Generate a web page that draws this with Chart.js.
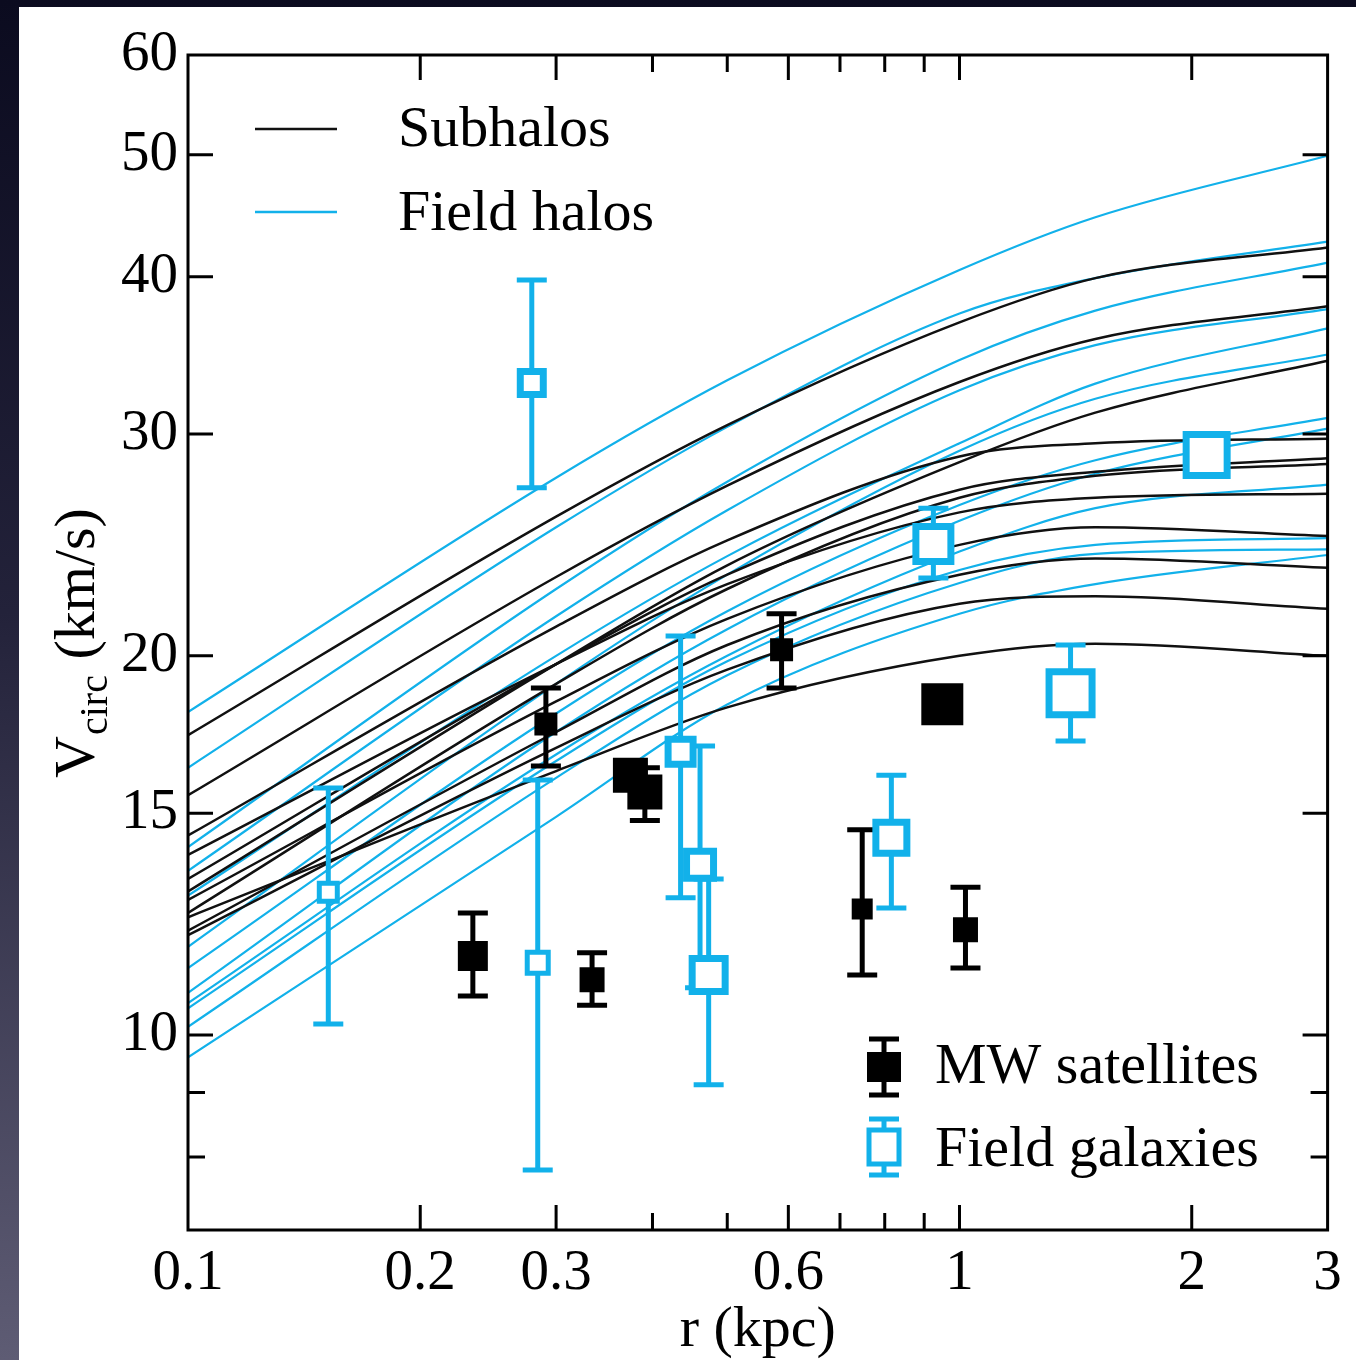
<!DOCTYPE html>
<html>
<head>
<meta charset="utf-8">
<script src="https://cdn.jsdelivr.net/npm/chart.js@4.4.1/dist/chart.umd.min.js"></script>
<style>
  html, body { margin: 0; padding: 0; }
  body {
    width: 1356px; height: 1360px; overflow: hidden; position: relative;
    background: linear-gradient(to bottom, #0b0b1f 0%, #23223a 45%, #5e5c74 100%);
  }
  #wrap { position: absolute; left: 19px; top: 7px; width: 1346px; height: 1353px; background: #fff; }
</style>
</head>
<body>
<div id="wrap"><canvas id="chart" width="1346" height="1353"></canvas></div>
<script>
const rGrid = [0.1, 0.3, 0.5, 1, 1.5, 3];

// subhalo rotation curves, V_circ (km/s) at rGrid
const subhaloV = [
  [17.3, 25.8, 30.5, 36.8, 39.9, 42.2],
  [15.5, 23.1, 27.3, 33.0, 35.7, 37.9],
  [13.0, 19.7, 23.6, 28.5, 31.2, 34.3],
  [14.4, 21.1, 24.7, 28.8, 29.5, 29.75],
  [13.3, 19.7, 23.2, 27.1, 28.0, 28.7],
  [12.5, 19.0, 22.6, 26.7, 27.8, 28.4],
  [13.9, 19.7, 22.8, 26.0, 26.7, 26.9],
  [12.8, 18.4, 21.4, 24.5, 25.3, 24.9],
  [12.1, 17.4, 20.4, 23.2, 23.9, 23.5],
  [12.0, 16.9, 19.5, 22.0, 22.3, 21.8],
  [12.4, 16.2, 18.2, 20.0, 20.45, 20.0]
];

// field halo rotation curves, V_circ (km/s) at rGrid
const fieldHaloV = [
  [18.05, 27.7, 33.1, 40.5, 44.6, 49.9],
  [16.3, 25.3, 30.4, 37.4, 39.9, 42.65],
  [14.1, 22.6, 27.5, 34.35, 37.6, 41.05],
  [13.5, 21.5, 26.1, 32.5, 35.3, 37.7],
  [12.9, 20.0, 24.0, 29.5, 32.9, 36.4],
  [11.75, 19.0, 23.2, 29.1, 32.0, 34.7],
  [11.3, 18.0, 21.7, 26.35, 28.6, 30.9],
  [10.8, 17.4, 21.0, 25.6, 27.9, 30.3],
  [10.6, 16.7, 20.0, 24.2, 26.2, 27.35],
  [10.5, 16.5, 19.8, 23.4, 24.5, 24.8],
  [10.15, 16.0, 19.3, 22.85, 24.1, 24.3],
  [9.6, 14.9, 18.3, 21.6, 22.8, 24.05]
];

// MW satellites
const mwR  = [0.234, 0.291, 0.334, 0.3745, 0.391, 0.588, 0.748, 0.95, 1.018];
const mwV  = [11.55, 17.66, 11.06, 16.08, 15.59, 20.22, 12.59, 18.31, 12.12];
const mwLo = [10.74, 16.35, 10.56, null, 14.8, 18.86, 11.16, null, 11.3];
const mwHi = [12.5, 18.86, 11.62, null, 16.3, 21.6, 14.55, null, 13.1];

// field galaxies
const fgR  = [0.152, 0.279, 0.284, 0.435, 0.461, 0.473, 0.816, 0.925, 1.393, 2.091];
const fgV  = [12.98, 32.94, 11.41, 16.78, 13.65, 11.16, 14.34, 24.54, 18.68, 28.87];
const fgLo = [10.2, 27.2, 7.81, 12.85, 10.9, 9.13, 12.61, 23.06, 17.12, null];
const fgHi = [15.71, 39.77, 15.94, 20.74, 16.96, 13.3, 16.08, 26.2, 20.4, null];

// axis ticks
const xTicks = [0.1, 0.2, 0.3, 0.6, 1, 2, 3];
const xMinor = [0.4, 0.5, 0.7, 0.8, 0.9];
const yTicks = [10, 15, 20, 30, 40, 50, 60];
const yMinor = [8, 9];

// marker sizes in px (outer side of the square)
const mwSide = [30, 23, 25, 35, 35, 23, 21, 42, 25];
const fgSide = [23, 30, 26, 32, 34, 40, 38, 42, 50, 48];

const BLUE = '#12b1ea';
const BLACK = '#111';
const FONT = '"Liberation Serif", "Times New Roman", serif';
const FS = 57;

Chart.defaults.font.family = FONT;
Chart.defaults.font.size = FS;
Chart.defaults.color = '#000';

function curve(vals, color, width, order) {
  return {
    type: 'line',
    data: rGrid.map((r, i) => ({ x: r, y: vals[i] })),
    borderColor: color,
    borderWidth: width,
    pointRadius: 0,
    cubicInterpolationMode: 'monotone',
    fill: false,
    order: order
  };
}

function errorBars(rs, lo, hi, color) {
  const out = [];
  rs.forEach((r, i) => {
    if (lo[i] == null) return;
    out.push({
      type: 'scatter',
      showLine: true,
      data: [{ x: r, y: lo[i] }, { x: r, y: hi[i] }],
      borderColor: color,
      borderWidth: 5,
      pointStyle: 'line',
      pointRadius: 15,
      pointBorderColor: color,
      pointBorderWidth: 5,
      order: 1
    });
  });
  return out;
}

const datasets = [];
fieldHaloV.forEach(v => datasets.push(curve(v, BLUE, 2.2, 3)));
subhaloV.forEach(v => datasets.push(curve(v, BLACK, 2.5, 2)));
errorBars(mwR, mwLo, mwHi, '#000').forEach(d => datasets.push(d));
errorBars(fgR, fgLo, fgHi, BLUE).forEach(d => datasets.push(d));

datasets.push({
  type: 'scatter',
  data: mwR.map((r, i) => ({ x: r, y: mwV[i] })),
  pointStyle: 'rect',
  pointRadius: mwSide.map(s => s / Math.SQRT2),
  pointBackgroundColor: '#000',
  pointBorderColor: '#000',
  pointBorderWidth: 0,
  order: 0
});

const fgBorder = fgSide.map(s => (s < 30 ? 5 : 7));
datasets.push({
  type: 'scatter',
  data: fgR.map((r, i) => ({ x: r, y: fgV[i] })),
  pointStyle: 'rect',
  pointRadius: fgSide.map((s, i) => (s - fgBorder[i]) / Math.SQRT2),
  pointBackgroundColor: '#fff',
  pointBorderColor: BLUE,
  pointBorderWidth: fgBorder,
  order: 0
});

// frame, inward ticks, legends and the y title
const decor = {
  id: 'decor',
  afterDatasetsDraw(chart) {
    const { ctx, chartArea: a, scales: { x, y } } = chart;
    ctx.save();
    ctx.strokeStyle = '#000';
    ctx.lineWidth = 3;
    ctx.beginPath();
    xTicks.concat(xMinor).forEach(v => {
      if (v <= 0.1 || v >= 3) return;
      const px = x.getPixelForValue(v);
      const len = xMinor.includes(v) ? 17 : 25;
      ctx.moveTo(px, a.bottom); ctx.lineTo(px, a.bottom - len);
      ctx.moveTo(px, a.top); ctx.lineTo(px, a.top + len);
    });
    yTicks.concat(yMinor).forEach(v => {
      if (v >= 60) return;
      const py = y.getPixelForValue(v);
      const len = yMinor.includes(v) ? 17 : 25;
      ctx.moveTo(a.left, py); ctx.lineTo(a.left + len, py);
      ctx.moveTo(a.right, py); ctx.lineTo(a.right - len, py);
    });
    ctx.stroke();
    ctx.strokeRect(a.left, a.top, a.right - a.left, a.bottom - a.top);
    ctx.restore();
  },
  afterDraw(chart) {
    const ctx = chart.ctx;
    ctx.save();
    ctx.font = '58px ' + FONT;
    ctx.fillStyle = '#000';
    ctx.textBaseline = 'middle';
    ctx.textAlign = 'left';

    // line legend (top left)
    ctx.lineWidth = 2.6;
    ctx.strokeStyle = BLACK;
    ctx.beginPath(); ctx.moveTo(236, 122); ctx.lineTo(318, 122); ctx.stroke();
    ctx.strokeStyle = BLUE;
    ctx.beginPath(); ctx.moveTo(236, 205); ctx.lineTo(318, 205); ctx.stroke();
    ctx.fillText('Subhalos', 379, 124);
    ctx.fillText('Field halos', 379, 208);

    // marker legend (bottom right)
    const marker = (cx, cy, color, filled) => {
      ctx.strokeStyle = color;
      ctx.lineWidth = 5;
      ctx.beginPath();
      ctx.moveTo(cx, cy - 28); ctx.lineTo(cx, cy + 28);
      ctx.moveTo(cx - 15, cy - 28); ctx.lineTo(cx + 15, cy - 28);
      ctx.moveTo(cx - 15, cy + 28); ctx.lineTo(cx + 15, cy + 28);
      ctx.stroke();
      if (filled) {
        ctx.fillStyle = color;
        ctx.fillRect(cx - 17, cy - 15, 34, 30);
      } else {
        ctx.fillStyle = '#fff';
        ctx.fillRect(cx - 15, cy - 17, 30, 34);
        ctx.strokeRect(cx - 15, cy - 17, 30, 34);
      }
    };
    marker(865, 1060, '#000', true);
    marker(865, 1140, BLUE, false);
    ctx.fillStyle = '#000';
    ctx.fillText('MW satellites', 916, 1061);
    ctx.fillText('Field galaxies', 916, 1144);

    // y title with subscript
    ctx.translate(75, 637);
    ctx.rotate(-Math.PI / 2);
    ctx.textBaseline = 'alphabetic';
    const big = '58px ' + FONT, small = '40px ' + FONT;
    ctx.font = big;
    const wV = ctx.measureText('V').width;
    const wRest = ctx.measureText(' (km/s)').width;
    ctx.font = small;
    const wSub = ctx.measureText('circ').width;
    const x0 = -(wV + wSub + wRest) / 2;
    ctx.font = big; ctx.fillText('V', x0, 0);
    ctx.font = small; ctx.fillText('circ', x0 + wV + 1, 13);
    ctx.font = big; ctx.fillText(' (km/s)', x0 + wV + wSub + 2, 0);
    ctx.restore();
  }
};

const ctx = document.getElementById('chart').getContext('2d');
const myChart = new Chart(ctx, {
  type: 'scatter',
  data: { datasets: datasets },
  options: {
    responsive: false,
    devicePixelRatio: 1,
    animation: false,
    events: [],
    layout: { padding: { top: 48, right: 20, left: 0, bottom: 0 } },
    plugins: { legend: { display: false }, tooltip: { enabled: false } },
    scales: {
      x: {
        type: 'logarithmic',
        min: 0.1,
        max: 3,
        grid: { display: false, drawTicks: false },
        border: { display: false },
        afterBuildTicks: s => { s.ticks = xTicks.map(v => ({ value: v })); },
        afterFit: s => { s.height = 130; },
        ticks: {
          autoSkip: false, maxRotation: 0, minRotation: 0, padding: 10,
          font: { size: FS },
          callback: v => String(v)
        },
        title: {
          display: true, text: 'r (kpc)',
          font: { size: 58, lineHeight: 1 },
          padding: { top: 0, bottom: 0 }
        }
      },
      y: {
        type: 'logarithmic',
        min: 7,
        max: 60,
        grid: { display: false, drawTicks: false },
        border: { display: false },
        afterBuildTicks: s => { s.ticks = yTicks.map(v => ({ value: v })); },
        afterFit: s => { s.width = 169; },
        ticks: {
          autoSkip: false, padding: 10,
          font: { size: FS },
          callback: v => String(v)
        }
      }
    }
  },
  plugins: [decor]
});
</script>
</body>
</html>
